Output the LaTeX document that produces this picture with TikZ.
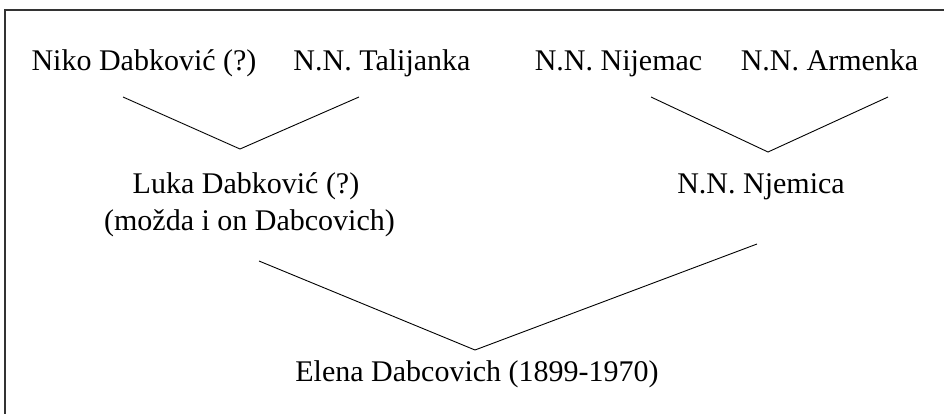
\documentclass[tikz,border=0pt]{standalone}
\usepackage{fontspec}
\setmainfont{Liberation Serif}
\begin{document}
\begin{tikzpicture}[x=1pt,y=-1pt,
  lbl/.style={anchor=base,inner sep=0pt,font=\fontsize{30}{37}\selectfont},
  link/.style={line width=0.9pt}]
\useasboundingbox (0,0) rectangle (944,413);
\begin{scope}
\clip (0,0) rectangle (944,413);
\draw[line width=1.3pt,black!80] (5,10) rectangle (980,450);
\end{scope}
\node[lbl] (niko) at (144,70) {Niko Dabković (?)};
\node[lbl] (tal) at (382,70) {N.N. Talijanka};
\node[lbl] (nij) at (618.5,70) {N.N. Nijemac};
\node[lbl] (arm) at (829.5,70) {N.N. Armenka};
\node[lbl] (luka) at (246,193) {Luka Dabković (?)};
\node[lbl] (mozda) at (249.5,230) {(možda i on Dabcovich)};
\node[lbl] (njem) at (761,193) {N.N. Njemica};
\node[lbl] (elena) at (477,381) {Elena Dabcovich (1899-1970)};
\coordinate (a1) at (123,97);
\coordinate (a2) at (240,149);
\coordinate (a3) at (359,97);
\coordinate (b1) at (651,97);
\coordinate (b2) at (768,152);
\coordinate (b3) at (888,97);
\coordinate (c1) at (259,261);
\coordinate (c2) at (475,350);
\coordinate (c3) at (757,244);
\draw[link] (a1) -- (a2) -- (a3);
\draw[link] (b1) -- (b2) -- (b3);
\draw[link] (c1) -- (c2) -- (c3);
\end{tikzpicture}
\end{document}
